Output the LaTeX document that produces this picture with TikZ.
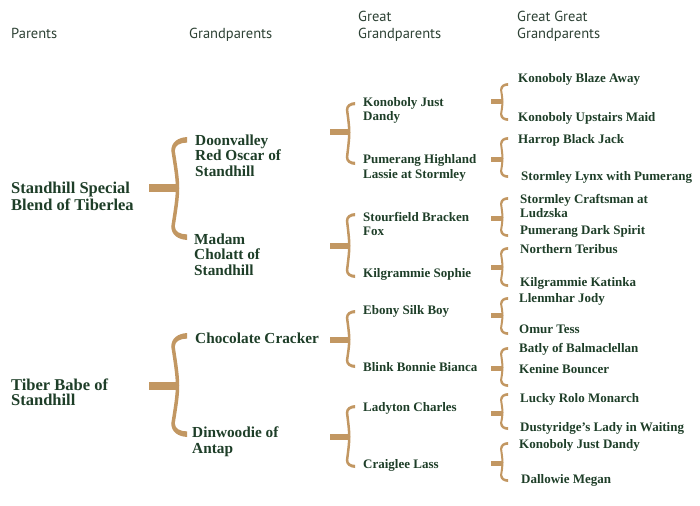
\documentclass[tikz,border=0pt]{standalone}
\usepackage{fontspec}
\setmainfont{Liberation Serif}
\newfontfamily\headfont{PT Sans}
\usepackage{tikz}
\usetikzlibrary{positioning, calc}
\definecolor{pedgreen}{RGB}{30,62,40}
\definecolor{pedhead}{RGB}{45,65,52}
\definecolor{pedtan}{RGB}{194,151,98}

% brace: name, bar x, spine x, top y, mid y, bottom y
% sizes come from \pedhk (hook), \pedsw (spine), \pedbw (bar), \pedbd (bulge)
\newcommand{\pedbrace}[6]{%
  \coordinate (#1-s) at (#2,#5);
  \coordinate (#1-m) at (#3+\pedbd,#5);
  \coordinate (#1-t) at (#3+\pedhk,#4);
  \coordinate (#1-b) at (#3+\pedhk,#6);
  \draw[pedtan, line width=\pedbw] (#1-s) -- (#1-m);
  \draw[pedtan, line width=\pedsw] (#3,#4+\pedhk-0.5) .. controls (#3+2*\pedbd,#5) .. (#3,#6-\pedhk+0.5);
  \fill[pedtan] (#3-0.5*\pedsw,#4+\pedhk)
    .. controls (#3-0.5*\pedsw,#4+0.35*\pedhk) and (#3+0.35*\pedhk,#4+0.05*\pedhk) .. (#1-t)
    -- (#3+\pedhk,#4+0.4*\pedhk)
    .. controls (#3+0.5*\pedhk,#4+0.4*\pedhk) and (#3+0.5*\pedsw,#4+0.6*\pedhk) .. (#3+0.5*\pedsw,#4+\pedhk) -- cycle;
  \fill[pedtan] (#3-0.5*\pedsw,#6-\pedhk)
    .. controls (#3-0.5*\pedsw,#6-0.35*\pedhk) and (#3+0.35*\pedhk,#6-0.05*\pedhk) .. (#1-b)
    -- (#3+\pedhk,#6-0.4*\pedhk)
    .. controls (#3+0.5*\pedhk,#6-0.4*\pedhk) and (#3+0.5*\pedsw,#6-0.6*\pedhk) .. (#3+0.5*\pedsw,#6-\pedhk) -- cycle;
}

\begin{document}
\begin{tikzpicture}[x=1pt, y=-1pt,
  header/.style={anchor=base west, inner sep=0pt, align=left, text=pedhead,
    font=\headfont\fontsize{14.5}{17}\selectfont},
  pedname/.style={anchor=base west, inner sep=0pt, align=left, text=pedgreen},
  gen1/.style={pedname, font=\bfseries\fontsize{16.5}{15}\selectfont},
  gen2/.style={pedname, font=\bfseries\fontsize{15.3}{15.5}\selectfont},
  gen3/.style={pedname, font=\bfseries\fontsize{13}{14}\selectfont},
  gen4/.style={pedname, font=\bfseries\fontsize{13}{14}\selectfont}]
\useasboundingbox (0,0) rectangle (700,505);

% ---- column headers (placed at the last baseline) ----
\node[header] (hp)   at (11,39)  {Parents};
\node[header] (hg)   at (189,39) {Grandparents};
\node[header] (hgg)  at (358,39) {Great\\Grandparents};
\node[header] (hggg) at (517,39) {Great Great\\Grandparents};

% ---- parents ----
\node[gen1] (s) at (11,210) {Standhill Special\\Blend of Tiberlea};
\node[gen1] (d) at (11,405) {Tiber Babe of\\Standhill};

% ---- grandparents ----
\node[gen2] (ss) at (195,176) {Doonvalley\\Red Oscar of\\Standhill};
\node[gen2] (sd) at (194,275) {Madam\\Cholatt of\\Standhill};
\node[gen2] (ds) at (195,343) {Chocolate Cracker};
\node[gen2] (dd) at (192,453) {Dinwoodie of\\Antap};

% ---- great grandparents ----
\node[gen3] (sss) at (363,121) {Konoboly Just\\Dandy};
\node[gen3] (ssd) at (363,178) {Pumerang Highland\\Lassie at Stormley};
\node[gen3] (sds) at (363,235) {Stourfield Bracken\\Fox};
\node[gen3] (sdd) at (363,277) {Kilgrammie Sophie};
\node[gen3] (dss) at (363,314) {Ebony Silk Boy};
\node[gen3] (dsd) at (363,371) {Blink Bonnie Bianca};
\node[gen3] (dds) at (363,411) {Ladyton Charles};
\node[gen3] (ddd) at (363,468) {Craiglee Lass};

% ---- great great grandparents ----
\node[gen4] (ssss) at (518,83)  {Konoboly Blaze Away};
\node[gen4] (sssd) at (518,122) {Konoboly Upstairs Maid};
\node[gen4] (ssds) at (518,143) {Harrop Black Jack};
\node[gen4] (ssdd) at (521,180) {Stormley Lynx with Pumerang};
\node[gen4] (sdss) at (520,217) {Stormley Craftsman at\\Ludzska};
\node[gen4] (sdsd) at (520,234) {Pumerang Dark Spirit};
\node[gen4] (sdds) at (520,253) {Northern Teribus};
\node[gen4] (sddd) at (520,286) {Kilgrammie Katinka};
\node[gen4] (dsss) at (519,302) {Llenmhar Jody};
\node[gen4] (dssd) at (519,333) {Omur Tess};
\node[gen4] (dsds) at (519,352) {Batly of Balmaclellan};
\node[gen4] (dsdd) at (519,373) {Kenine Bouncer};
\node[gen4] (ddss) at (520,402) {Lucky Rolo Monarch};
\node[gen4] (ddsd) at (520,431) {Dustyridge's Lady in Waiting};
\node[gen4] (ddds) at (519,448) {Konoboly Just Dandy};
\node[gen4] (dddd) at (521,483) {Dallowie Megan};

% ---- braces: parents to grandparents ----
\def\pedhk{14}\def\pedsw{3.5}\def\pedbw{8}\def\pedbd{3}
\pedbrace{s-br}{149}{173}{137}{188}{240}
\pedbrace{d-br}{149}{173}{333}{386}{437}

% ---- braces: grandparents to great grandparents ----
\def\pedhk{8}\def\pedsw{2.5}\def\pedbw{6}\def\pedbd{1.5}
\pedbrace{ss-br}{330}{347}{102}{132}{165}
\pedbrace{sd-br}{330}{347}{213}{246}{278}
\pedbrace{ds-br}{330}{347}{310}{340}{368}
\pedbrace{dd-br}{330}{347}{405}{437}{468}

% ---- braces: great grandparents to great great grandparents ----
\def\pedhk{7}\def\pedsw{2}\def\pedbw{5}\def\pedbd{1}
\pedbrace{sss-br}{491}{501}{83}{102}{121}
\pedbrace{ssd-br}{491}{501}{137}{159}{178}
\pedbrace{sds-br}{491}{501}{197}{218}{237}
\pedbrace{sdd-br}{491}{501}{247}{267}{287}
\pedbrace{dss-br}{491}{501}{297}{315}{335}
\pedbrace{dsd-br}{491}{501}{347}{368}{387}
\pedbrace{dds-br}{491}{501}{393}{413}{430}
\pedbrace{ddd-br}{491}{501}{442}{463}{482}
\end{tikzpicture}
\end{document}
